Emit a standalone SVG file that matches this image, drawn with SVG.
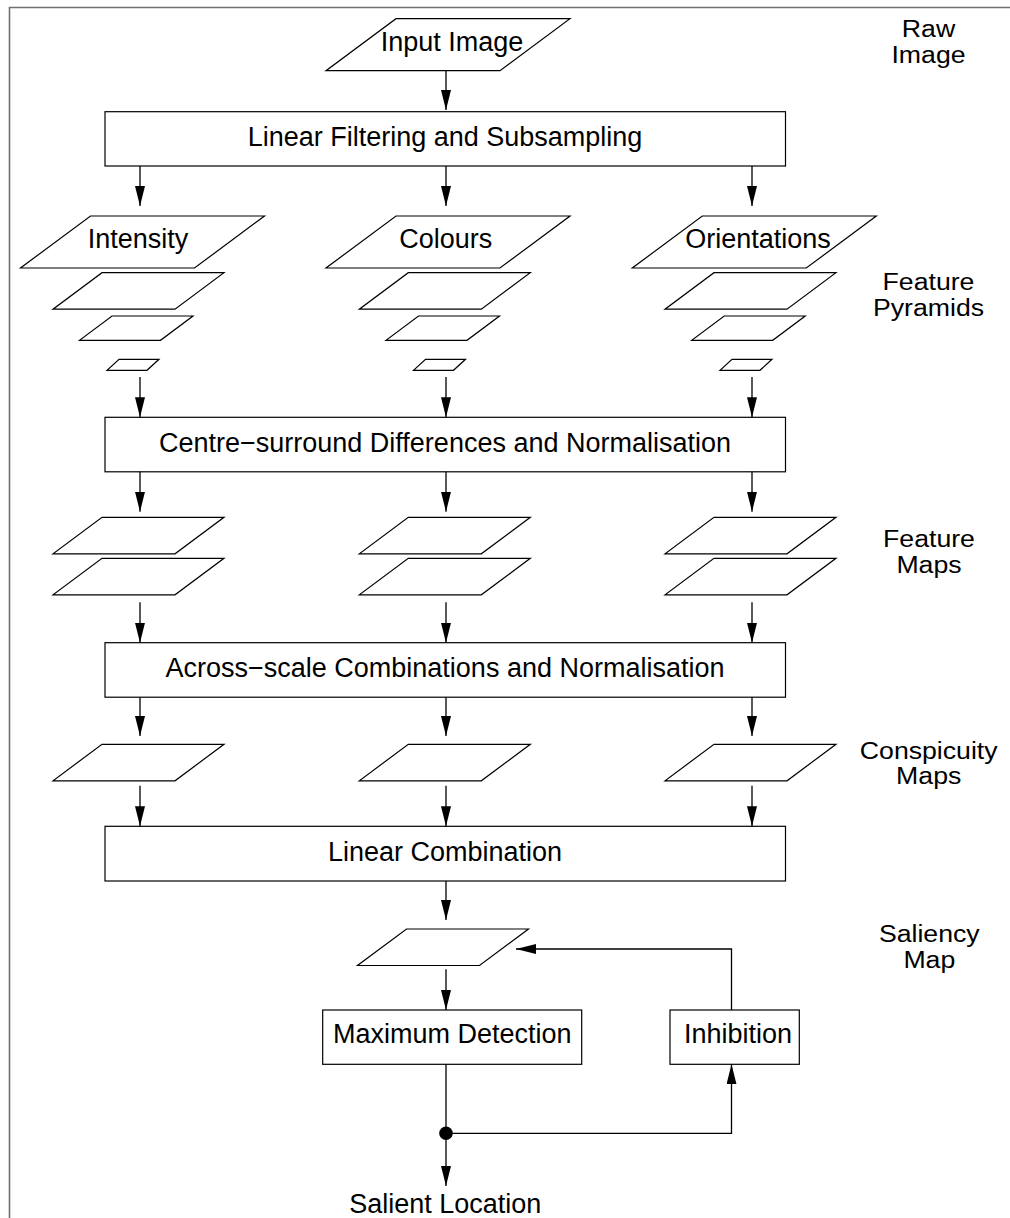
<svg xmlns="http://www.w3.org/2000/svg" width="1010" height="1218" viewBox="0 0 1010 1218">
  <defs>
    <style>
      text { font-family: "Liberation Sans", Arial, Helvetica, sans-serif; font-size: 27px; fill: #000; text-anchor: middle; }
      text.side { font-size: 23px; }
      .shape { fill: #fff; stroke: #000; stroke-width: 1.2; }
      .wire { fill: none; stroke: #000; stroke-width: 1.3; }
      .frame { fill: none; stroke: #707070; stroke-width: 1.6; }
    </style>
    <marker id="head" markerUnits="userSpaceOnUse" markerWidth="20" markerHeight="10" refX="20" refY="5" orient="auto">
      <path d="M0,0 L20,5 L0,10 Z" fill="#000"/>
    </marker>
    <!-- layer outlines, drawn with their top-left corner at the origin -->
    <polygon id="layerL" points="70,0 244,0 174,52 0,52"/>
    <polygon id="layerM" points="49,0 171,0 122,36.5 0,36.5"/>
    <polygon id="layerS" points="32.5,0 113.5,0 81,24.3 0,24.3"/>
    <polygon id="layerXS" points="12,0 52,0 40,11 0,11"/>
  </defs>

  <rect width="1010" height="1218" fill="#fff"/>
  <path class="frame" d="M9.5,1220 V7.5 H1012"/>

  <!-- stage labels: tight two-line stacks, widened to the body text width -->
  <g id="labels">
    <text class="side" transform="translate(928.5,37) scale(1.16,1)"><tspan x="0">Raw</tspan><tspan x="0" dy="26">Image</tspan></text>
    <text class="side" transform="translate(928.5,290) scale(1.16,1)"><tspan x="0">Feature</tspan><tspan x="0" dy="26">Pyramids</tspan></text>
    <text class="side" transform="translate(929,547.3) scale(1.16,1)"><tspan x="0">Feature</tspan><tspan x="0" dy="26">Maps</tspan></text>
    <text class="side" transform="translate(928.7,758.5) scale(1.16,1)"><tspan x="0">Conspicuity</tspan><tspan x="0" dy="26">Maps</tspan></text>
    <text class="side" transform="translate(929.3,941.7) scale(1.16,1)"><tspan x="0">Saliency</tspan><tspan x="0" dy="26">Map</tspan></text>
  </g>

  <g id="input-image">
    <use href="#layerL" class="shape" x="326" y="18.7"/>
    <text x="452" y="50.7">Input Image</text>
  </g>

  <g id="linear-filtering">
    <rect class="shape" x="105" y="111.7" width="680.5" height="54.3"/>
    <text x="445" y="146">Linear Filtering and Subsampling</text>
  </g>

  <g id="intensity-pyramid">
    <use href="#layerL" class="shape" x="20.5" y="216"/>
    <use href="#layerM" class="shape" x="53" y="272.7"/>
    <use href="#layerS" class="shape" x="79.5" y="316"/>
    <use href="#layerXS" class="shape" x="107" y="359.3"/>
    <text x="138" y="248.3">Intensity</text>
  </g>

  <g id="colours-pyramid">
    <use href="#layerL" class="shape" x="326" y="216"/>
    <use href="#layerM" class="shape" x="359.3" y="272.7"/>
    <use href="#layerS" class="shape" x="386" y="316"/>
    <use href="#layerXS" class="shape" x="413.5" y="359.3"/>
    <text x="445.8" y="248.3">Colours</text>
  </g>

  <g id="orientations-pyramid">
    <use href="#layerL" class="shape" x="632.3" y="216"/>
    <use href="#layerM" class="shape" x="665" y="272.7"/>
    <use href="#layerS" class="shape" x="691.7" y="316"/>
    <use href="#layerXS" class="shape" x="720" y="359.3"/>
    <text x="758" y="248.3">Orientations</text>
  </g>

  <g id="centre-surround">
    <rect class="shape" x="105" y="417.3" width="680.5" height="54.5"/>
    <text x="445" y="452">Centre−surround Differences and Normalisation</text>
  </g>

  <g id="intensity-feature-maps">
    <use href="#layerM" class="shape" x="53" y="517.3"/>
    <use href="#layerM" class="shape" x="53" y="558.3"/>
  </g>
  <g id="colours-feature-maps">
    <use href="#layerM" class="shape" x="359.3" y="517.3"/>
    <use href="#layerM" class="shape" x="359.3" y="558.3"/>
  </g>
  <g id="orientations-feature-maps">
    <use href="#layerM" class="shape" x="665" y="517.3"/>
    <use href="#layerM" class="shape" x="665" y="558.3"/>
  </g>

  <g id="across-scale">
    <rect class="shape" x="105" y="642.7" width="680.5" height="54.5"/>
    <text x="445" y="677">Across−scale Combinations and Normalisation</text>
  </g>

  <g id="intensity-conspicuity">
    <use href="#layerM" class="shape" x="53" y="744.3"/>
  </g>
  <g id="colours-conspicuity">
    <use href="#layerM" class="shape" x="359.3" y="744.3"/>
  </g>
  <g id="orientations-conspicuity">
    <use href="#layerM" class="shape" x="665" y="744.3"/>
  </g>

  <g id="linear-combination">
    <rect class="shape" x="105" y="826.3" width="680.5" height="54.7"/>
    <text x="445" y="861">Linear Combination</text>
  </g>

  <g id="saliency-map">
    <use href="#layerM" class="shape" x="357.5" y="929"/>
  </g>

  <g id="maximum-detection">
    <rect class="shape" x="322.7" y="1010" width="259" height="54.3"/>
    <text x="452.2" y="1043.3">Maximum Detection</text>
  </g>

  <g id="inhibition">
    <rect class="shape" x="670" y="1010" width="129.3" height="54.3"/>
    <text x="738" y="1043.3">Inhibition</text>
  </g>

  <g id="salient-location">
    <text x="445.3" y="1213">Salient Location</text>
  </g>

  <g id="connectors">
    <line class="wire" x1="446" y1="70.7" x2="446" y2="110" marker-end="url(#head)"/>

    <line class="wire" x1="140" y1="166" x2="140" y2="206" marker-end="url(#head)"/>
    <line class="wire" x1="446" y1="166" x2="446" y2="206" marker-end="url(#head)"/>
    <line class="wire" x1="752" y1="166" x2="752" y2="206" marker-end="url(#head)"/>

    <line class="wire" x1="140" y1="377" x2="140" y2="417.3" marker-end="url(#head)"/>
    <line class="wire" x1="446" y1="377" x2="446" y2="417.3" marker-end="url(#head)"/>
    <line class="wire" x1="752" y1="377" x2="752" y2="417.3" marker-end="url(#head)"/>

    <line class="wire" x1="140" y1="471.8" x2="140" y2="511.7" marker-end="url(#head)"/>
    <line class="wire" x1="446" y1="471.8" x2="446" y2="511.7" marker-end="url(#head)"/>
    <line class="wire" x1="752" y1="471.8" x2="752" y2="511.7" marker-end="url(#head)"/>

    <line class="wire" x1="140" y1="602.3" x2="140" y2="642.7" marker-end="url(#head)"/>
    <line class="wire" x1="446" y1="602.3" x2="446" y2="642.7" marker-end="url(#head)"/>
    <line class="wire" x1="752" y1="602.3" x2="752" y2="642.7" marker-end="url(#head)"/>

    <line class="wire" x1="140" y1="697.2" x2="140" y2="736" marker-end="url(#head)"/>
    <line class="wire" x1="446" y1="697.2" x2="446" y2="736" marker-end="url(#head)"/>
    <line class="wire" x1="752" y1="697.2" x2="752" y2="736" marker-end="url(#head)"/>

    <line class="wire" x1="140" y1="785.7" x2="140" y2="826.3" marker-end="url(#head)"/>
    <line class="wire" x1="446" y1="785.7" x2="446" y2="826.3" marker-end="url(#head)"/>
    <line class="wire" x1="752" y1="785.7" x2="752" y2="826.3" marker-end="url(#head)"/>

    <line class="wire" x1="446" y1="881" x2="446" y2="920" marker-end="url(#head)"/>
    <line class="wire" x1="446" y1="969.3" x2="446" y2="1010" marker-end="url(#head)"/>

    <!-- inhibition of return feeds back into the saliency map -->
    <polyline class="wire" points="731.5,1010 731.5,949 516,949" marker-end="url(#head)"/>

    <!-- winner location splits to the output and to inhibition -->
    <line class="wire" x1="446" y1="1064.3" x2="446" y2="1186" marker-end="url(#head)"/>
    <polyline class="wire" points="446,1133.3 731.5,1133.3 731.5,1064.3" marker-end="url(#head)"/>
    <circle cx="446" cy="1133.3" r="6.8" fill="#000"/>
  </g>
</svg>
